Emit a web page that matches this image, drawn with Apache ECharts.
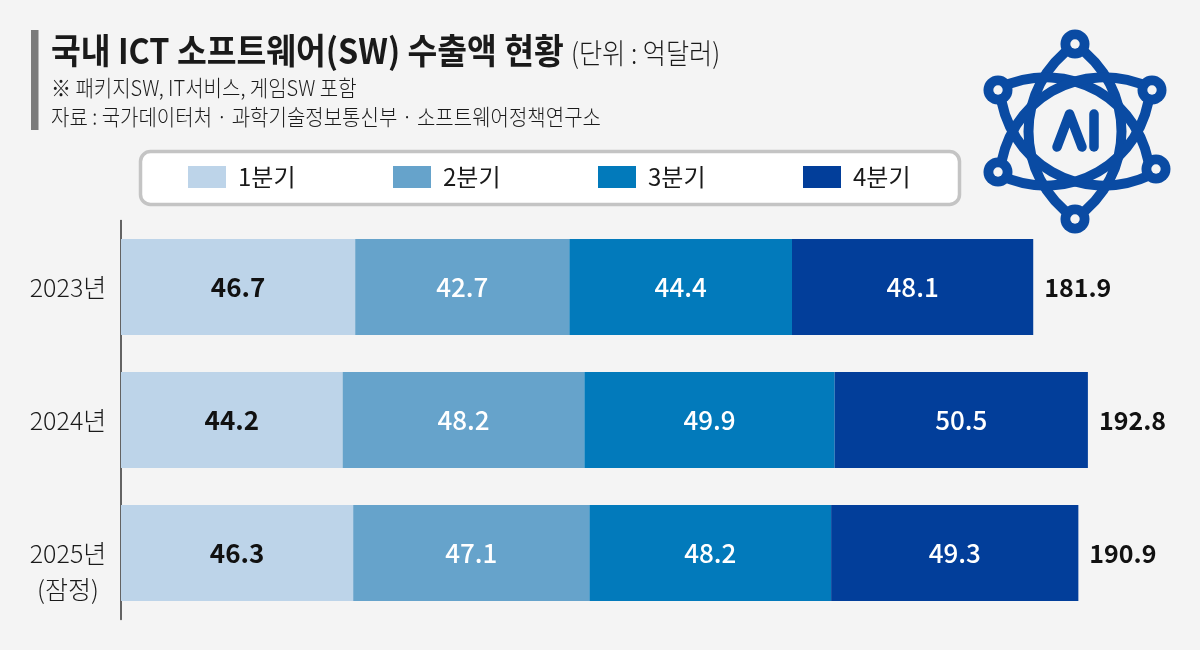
<!DOCTYPE html>
<html><head><meta charset="utf-8">
<style>html,body{margin:0;padding:0;background:#f4f4f4}#c{width:1200px;height:650px}</style>
<script src="https://cdn.jsdelivr.net/npm/echarts@6/dist/echarts.min.js"></script>
</head><body><div id="c"></div>
<script>
const years = ['2023년', '2024년', '2025년\n(잠정)'];
const quarters = ['1분기', '2분기', '3분기', '4분기'];
const q1 = [46.7, 44.2, 46.3];
const q2 = [42.7, 48.2, 47.1];
const q3 = [44.4, 49.9, 48.2];
const q4 = [48.1, 50.5, 49.3];
const totals = [181.9, 192.8, 190.9];
const colors = ['#bdd4e9', '#66a3cb', '#027abb', '#023e9a'];
const labelColors = ['#111111', '#ffffff', '#ffffff', '#ffffff'];
const labelWeights = [700, 500, 500, 500];
const FONT = '"Noto Sans CJK KR","Noto Sans",sans-serif';
const blue = '#0a4ba3', bg = '#f4f4f4';

const chart = echarts.init(document.getElementById('c'), null, {renderer: 'canvas'});
const legendX = [183, 388, 593, 798];
const node = (x, y) => [
  {type: 'circle', shape: {cx: x, cy: y, r: 14.5}, style: {fill: blue}},
  {type: 'circle', shape: {cx: x, cy: y, r: 4.7}, style: {fill: bg}}
];
const side = (r, s) => ({type: 'bezierCurve', x: 1075, y: 131.5, rotation: r,
  shape: {x1: 0, y1: -87, cpx1: s * 62, cpy1: -44, cpx2: s * 62, cpy2: 44, x2: 0, y2: 87},
  style: {fill: 'none', stroke: blue, lineWidth: 10}});
const orbit = r => [side(r, 1), side(r, -1)];

chart.setOption({
  backgroundColor: bg,
  animation: false,
  textStyle: {fontFamily: FONT},
  grid: {left: 121, width: 1003, top: 220.6, height: 399},
  legend: quarters.map((q, i) => ({
    data: [q], left: legendX[i], top: 160, itemWidth: 38, itemHeight: 22, itemGap: 0,
    icon: 'rect', selectedMode: false,
    textStyle: {fontFamily: FONT, fontSize: 24, color: '#1a1a1a', padding: [0, 0, 0, 7]}
  })),
  xAxis: {type: 'value', min: 0, max: 200, show: false},
  yAxis: {type: 'category', inverse: true, data: years,
    axisLine: {show: true, lineStyle: {color: '#333', width: 1.5}},
    axisTick: {show: false},
    axisLabel: {fontFamily: FONT, fontSize: 25, fontWeight: 300, color: '#1a1a1a', margin: 53, lineHeight: 36, align: 'center',
      formatter: v => v.includes('\n') ? '\n' + v : v}
  },
  series: [q1, q2, q3, q4].map((d, i) => ({
    name: quarters[i], type: 'bar', stack: 'total', data: d, barWidth: 96,
    itemStyle: {color: colors[i]},
    label: {show: true, position: 'inside', fontFamily: FONT, fontSize: 26, fontWeight: labelWeights[i],
      color: labelColors[i], formatter: p => p.value.toFixed(1)}
  })).concat([{
    name: '합계', type: 'scatter', data: totals.map((t, i) => [t, i]), symbolSize: 0,
    itemStyle: {opacity: 1},
    label: {show: true, position: 'right', distance: 11, fontFamily: FONT, fontSize: 25, fontWeight: 700,
      color: '#111111', formatter: p => p.value[0].toFixed(1)}
  }]),
  graphic: [
    {type: 'rect', shape: {x: 31, y: 30, width: 7.5, height: 100}, style: {fill: '#7b7b7b'}},
    {type: 'text', x: 51, y: 51, scaleX: 0.925, style: {text: '국내 ICT 소프트웨어(SW) 수출액 현황', fontFamily: FONT, fontSize: 35, fontWeight: 700, fill: '#1a1a1a', textVerticalAlign: 'middle'}},
    {type: 'text', x: 571, y: 53, scaleX: 0.9, style: {text: '(단위 : 억달러)', fontFamily: FONT, fontSize: 28, fontWeight: 300, fill: '#1a1a1a', textVerticalAlign: 'middle'}},
    {type: 'text', x: 51, y: 88, scaleX: 0.909, style: {text: '※ 패키지SW, IT서비스, 게임SW 포함', fontFamily: FONT, fontSize: 22, fontWeight: 300, fill: '#1a1a1a', textVerticalAlign: 'middle'}},
    {type: 'text', x: 51, y: 117, scaleX: 0.909, style: {text: '자료 : 국가데이터처 · 과학기술정보통신부 · 소프트웨어정책연구소', fontFamily: FONT, fontSize: 22, fontWeight: 300, fill: '#1a1a1a', textVerticalAlign: 'middle'}},
    {type: 'rect', z: -1, shape: {x: 140.5, y: 151.5, width: 819, height: 53, r: 10}, style: {fill: '#fff', stroke: '#c4c4c4', lineWidth: 3.5}},
    ...orbit(0), ...orbit(Math.PI / 3), ...orbit(-Math.PI / 3),
    ...node(1075, 44), ...node(1075, 219),
    ...node(998, 90), ...node(1152, 90), ...node(998, 172), ...node(1156, 169),
    {type: 'polyline', shape: {points: [[1057, 147], [1069.5, 114], [1082, 147]]}, style: {fill: 'none', stroke: blue, lineWidth: 9.5, lineCap: 'round', lineJoin: 'round'}},
    {type: 'line', shape: {x1: 1094, y1: 114, x2: 1094, y2: 147}, style: {stroke: blue, lineWidth: 9.5, lineCap: 'round'}}
  ]
});
</script></body></html>
